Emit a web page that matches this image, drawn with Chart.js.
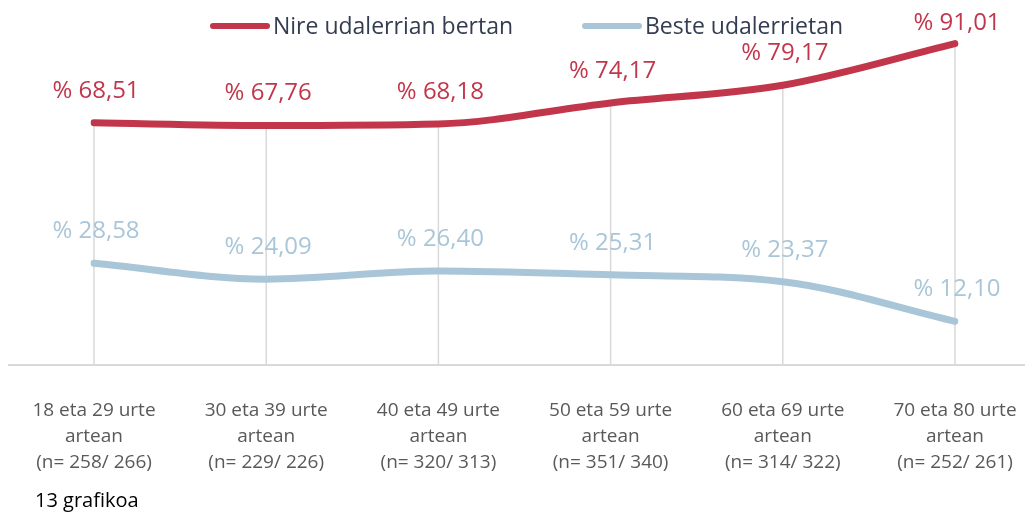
<!DOCTYPE html>
<html>
<head>
<meta charset="utf-8">
<script src="https://cdn.jsdelivr.net/npm/chart.js@4/dist/chart.umd.min.js"></script>
<style>
    body { margin: 0; background: #fff; font-family: "Open Sans", sans-serif; }
    #wrap { position: relative; width: 1025px; height: 513px; }
    #chart { position: absolute; left: 0; top: 0; }
    .legend { position: absolute; top: 9px; font-size: 23px; color: #333c50; white-space: nowrap; line-height: 32px; }
    .legend span.mark { display: inline-block; width: 60px; height: 6px; border-radius: 3px; vertical-align: middle; margin-right: 3px; position: relative; top: -2px; }
    #caption { position: absolute; left: 35px; top: 486px; font-size: 20px; color: #000; }
</style>
</head>
<body>
<div id="wrap">
    <canvas id="chart" width="1025" height="513"></canvas>
    <div class="legend" style="left:210px"><span class="mark" style="background:#c2364b"></span>Nire udalerrian bertan</div>
    <div class="legend" style="left:582px"><span class="mark" style="background:#a9c6d8"></span>Beste udalerrietan</div>
    <div id="caption">13 grafikoa</div>
</div>
<script>
var categories = [
    ['18 eta 29 urte', 'artean', '(n= 258/ 266)'],
    ['30 eta 39 urte', 'artean', '(n= 229/ 226)'],
    ['40 eta 49 urte', 'artean', '(n= 320/ 313)'],
    ['50 eta 59 urte', 'artean', '(n= 351/ 340)'],
    ['60 eta 69 urte', 'artean', '(n= 314/ 322)'],
    ['70 eta 80 urte', 'artean', '(n= 252/ 261)']
];
var nireUdalerrian = [68.51, 67.76, 68.18, 74.17, 79.17, 91.01];
var besteUdalerrietan = [28.58, 24.09, 26.40, 25.31, 23.37, 12.10];

var red = '#c2364b';
var blue = '#a9c6d8';

function fmt(v){
    return '% ' + v.toFixed(2).replace('.', ',');
}

// drop lines from the top series down to the axis + full width axis line
var dropLines = {
    id: 'dropLines',
    beforeDatasetsDraw: function(chart){
        var ctx = chart.ctx;
        var area = chart.chartArea;
        var top = chart.getDatasetMeta(0).data;
        ctx.save();
        ctx.strokeStyle = '#d9d9d9';
        ctx.lineWidth = 1.5;
        top.forEach(function(p){
            ctx.beginPath();
            ctx.moveTo(p.x, p.y);
            ctx.lineTo(p.x, area.bottom);
            ctx.stroke();
        });
        ctx.lineWidth = 2;
        ctx.beginPath();
        ctx.moveTo(8, area.bottom + 1);
        ctx.lineTo(chart.width, area.bottom + 1);
        ctx.stroke();
        ctx.restore();
    }
};

var valueLabels = {
    id: 'valueLabels',
    afterDatasetsDraw: function(chart){
        var ctx = chart.ctx;
        ctx.save();
        ctx.font = '24px "Open Sans"';
        ctx.textAlign = 'center';
        ctx.textBaseline = 'middle';
        chart.data.datasets.forEach(function(ds, i){
            var meta = chart.getDatasetMeta(i);
            ctx.fillStyle = ds.borderColor;
            meta.data.forEach(function(p, j){
                var y = Math.max(p.y - 32, 23);
                ctx.fillText(fmt(ds.data[j]), p.x + 2, y);
            });
        });
        ctx.restore();
    }
};

var chart = new Chart(document.getElementById('chart'), {
    type: 'line',
    data: {
        labels: categories,
        datasets: [{
            label: 'Nire udalerrian bertan',
            data: nireUdalerrian,
            borderColor: red,
            borderWidth: 7,
            borderCapStyle: 'round',
            pointRadius: 0,
            cubicInterpolationMode: 'monotone'
        }, {
            label: 'Beste udalerrietan',
            data: besteUdalerrietan,
            borderColor: blue,
            borderWidth: 7,
            borderCapStyle: 'round',
            pointRadius: 0,
            cubicInterpolationMode: 'monotone'
        }]
    },
    options: {
        responsive: false,
        animation: false,
        layout: { padding: { left: 94, right: 70, top: 12, bottom: 3 } },
        plugins: { legend: { display: false }, tooltip: { enabled: false } },
        scales: {
            x: {
                offset: false,
                grid: { display: false, drawTicks: false },
                border: { display: false },
                afterFit: function(s){
                    s.paddingLeft = 0;
                    s.paddingRight = 0;
                },
                ticks: {
                    color: '#595959',
                    font: { family: 'Open Sans', size: 19, lineHeight: 1.37 },
                    padding: 34,
                    maxRotation: 0,
                    autoSkip: false
                }
            },
            y: {
                display: false,
                min: 0,
                max: 100
            }
        }
    },
    plugins: [dropLines, valueLabels]
});
</script>
</body>
</html>
